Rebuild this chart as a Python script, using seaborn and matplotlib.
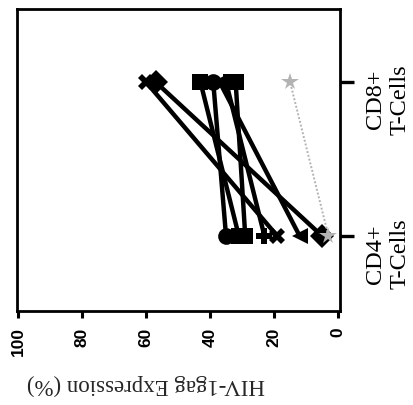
import matplotlib
matplotlib.use("Agg")
import matplotlib.pyplot as plt
import pandas as pd
import seaborn as sns

# Paired HIV-1 gag expression per donor in CD4+ and CD8+ T cells
cell_types = ["CD4+\nT-Cells", "CD8+\nT-Cells"]
subjects = ["D1", "D2", "D3", "D4", "D5", "D6", "D7", "D8"]
cd4_values = [35, 31, 29, 23, 19, 12, 5, 3]
cd8_values = [39, 43, 32, 35, 60, 37, 57, 15]
subject_markers = ["o", "s", "s", "P", "X", "<", "D", "*"]
subject_colors = ["black"] * 7 + ["#b3b3b3"]
value_ticks = [0, 20, 40, 60, 80, 100]

rows = []
for s, a, b in zip(subjects, cd4_values, cd8_values):
    rows.append({"subject": s, "cell": 0, "value": a})
    rows.append({"subject": s, "cell": 1, "value": b})
df = pd.DataFrame(rows)

sns.set_style("ticks")
plt.rcParams["font.family"] = ["Liberation Serif", "DejaVu Serif"]

fig = plt.figure(figsize=(4.14, 4.06), dpi=100)
ax = fig.add_axes([17 / 414, 1 - 312 / 406, 323 / 414, 302 / 406])

marker_map = dict(zip(subjects, subject_markers))
color_map = dict(zip(subjects, subject_colors))

dark = df[df.subject != "D8"]
light = df[df.subject == "D8"]

sns.lineplot(data=dark, x="value", y="cell", hue="subject", style="subject",
             markers={k: marker_map[k] for k in subjects[:7]}, dashes=False,
             palette={k: color_map[k] for k in subjects[:7]},
             estimator=None, sort=False, orient="y", legend=False,
             lw=3.2, markersize=12, markeredgewidth=0, ax=ax)
sns.lineplot(data=light, x="value", y="cell", hue="subject", style="subject",
             markers={"D8": marker_map["D8"]}, dashes={"D8": (1, 1)},
             palette={"D8": color_map["D8"]},
             estimator=None, sort=False, orient="y", legend=False,
             lw=1.4, markersize=13, markeredgewidth=0, ax=ax)

ax.set_xlim(100.3, -0.6)
ax.set_ylim(-0.487, 1.474)

ax.set_xticks(value_ticks)
ax.set_xticklabels([str(v) for v in value_ticks], rotation=90,
                   family="Liberation Sans", fontsize=12.5, fontweight="bold")
ax.yaxis.tick_right()
ax.set_yticks([0, 1])
ax.set_yticklabels(cell_types, rotation=90, fontsize=17.5,
                   family="Liberation Serif", multialignment="center")

ax.tick_params(axis="x", length=5, width=2.2, pad=6, colors="black")
ax.tick_params(axis="y", length=10, width=2.4, pad=8, colors="black")

for sp in ax.spines.values():
    sp.set_visible(True)
    sp.set_linewidth(2.0)
    sp.set_color("black")

ax.set_ylabel("")
ax.set_xlabel("HIV-1gag Expression (%)", rotation=180, fontsize=16.5,
              family="Liberation Serif", va="center")
ax.xaxis.set_label_coords(0.40, -0.24)

fig.savefig("out.png", dpi=100)
